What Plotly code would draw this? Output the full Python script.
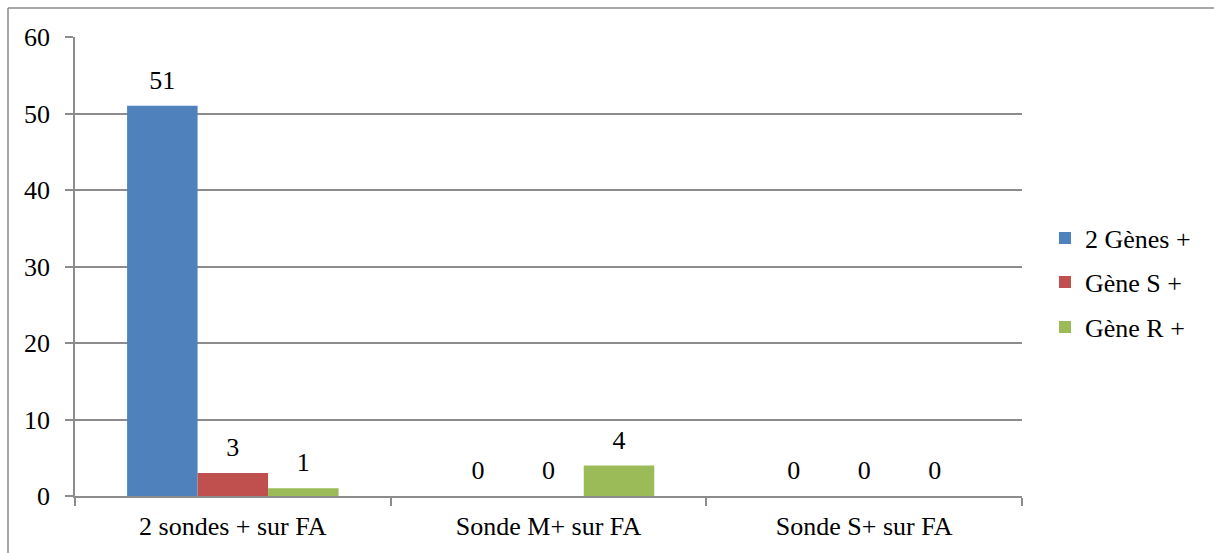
import plotly.graph_objects as go

# Categories and series values
categories = ["2 sondes + sur FA", "Sonde M+ sur FA", "Sonde S+ sur FA"]
series_names = ["2 Gènes +", "Gène S +", "Gène R +"]
deux_genes = [51, 0, 0]
gene_s = [3, 0, 0]
gene_r = [1, 4, 0]
y_ticks = [0, 10, 20, 30, 40, 50, 60]

colors = ["#4F81BD", "#C0504D", "#9BBB59"]
series_values = [deux_genes, gene_s, gene_r]
legend_ids = ["legend", "legend2", "legend3"]

FONT = "Liberation Serif"
GRID = "#8c8c8c"
W, H = 1214, 553
ML, MR, MT, MB = 75, 192, 37, 57
PW, PH = W - ML - MR, H - MT - MB

fig = go.Figure()

for i, (name, vals, col) in enumerate(zip(series_names, series_values, colors)):
    fig.add_trace(go.Bar(
        x=categories, y=vals, name=name,
        marker=dict(color=col, line=dict(width=0)),
        offsetgroup=str(i), legend=legend_ids[i],
        hoverinfo="skip",
    ))

# Value labels above each bar, grouped the same way as the bars
for i, vals in enumerate(series_values):
    fig.add_trace(go.Scatter(
        x=categories, y=vals, mode="markers+text",
        text=[str(v) for v in vals], textposition="top center",
        textfont=dict(family=FONT, size=26, color="#000000"),
        marker=dict(size=15, opacity=0),
        offsetgroup=str(i), showlegend=False, hoverinfo="skip",
        cliponaxis=False,
    ))

legend_y = [0.562, 0.466, 0.368]
legend_layout = {}
for lid, ly in zip(legend_ids, legend_y):
    legend_layout[lid] = dict(
        x=(1045 - ML) / PW, y=ly, xanchor="left", yanchor="middle",
        font=dict(family=FONT, size=26, color="#000000"),
        bgcolor="rgba(0,0,0,0)", itemwidth=30,
        itemclick=False, itemdoubleclick=False,
    )

fig.update_layout(
    width=W, height=H,
    margin=dict(l=ML, r=MR, t=MT, b=MB, pad=0),
    paper_bgcolor="white", plot_bgcolor="white",
    barmode="group", bargap=0.33, bargroupgap=0,
    scattermode="group", scattergap=0.33,
    font=dict(family=FONT, size=26, color="#000000"),
    xaxis=dict(
        type="category", tickson="boundaries", ticks="outside", ticklen=8,
        tickcolor=GRID, tickwidth=1.5, showgrid=False, zeroline=False,
        showline=True, linecolor=GRID, linewidth=1.5,
        tickfont=dict(family=FONT, size=26, color="#000000"),
        ticklabelstandoff=6, fixedrange=True,
    ),
    yaxis=dict(
        range=[0, 60], tickvals=y_ticks, ticks="outside", ticklen=8,
        tickcolor=GRID, tickwidth=1.5, showgrid=True, gridcolor=GRID,
        gridwidth=1.5, zeroline=False, showline=True, linecolor=GRID,
        linewidth=1.5, tickfont=dict(family=FONT, size=26, color="#000000"),
        ticklabelstandoff=10, fixedrange=True,
    ),
    **legend_layout,
)

# Chart frame along the top and left edges
left_x = (8 - ML) / PW
top_y = (H - MB - 8) / PH
fig.add_shape(type="line", xref="paper", yref="paper",
              x0=left_x, x1=left_x, y0=-1, y1=top_y,
              line=dict(color="#8a8a8a", width=1.5))
fig.add_shape(type="line", xref="paper", yref="paper",
              x0=left_x, x1=2, y0=top_y, y1=top_y,
              line=dict(color="#8a8a8a", width=1.5))

fig.write_html("out.html", config=dict(displayModeBar=False))
